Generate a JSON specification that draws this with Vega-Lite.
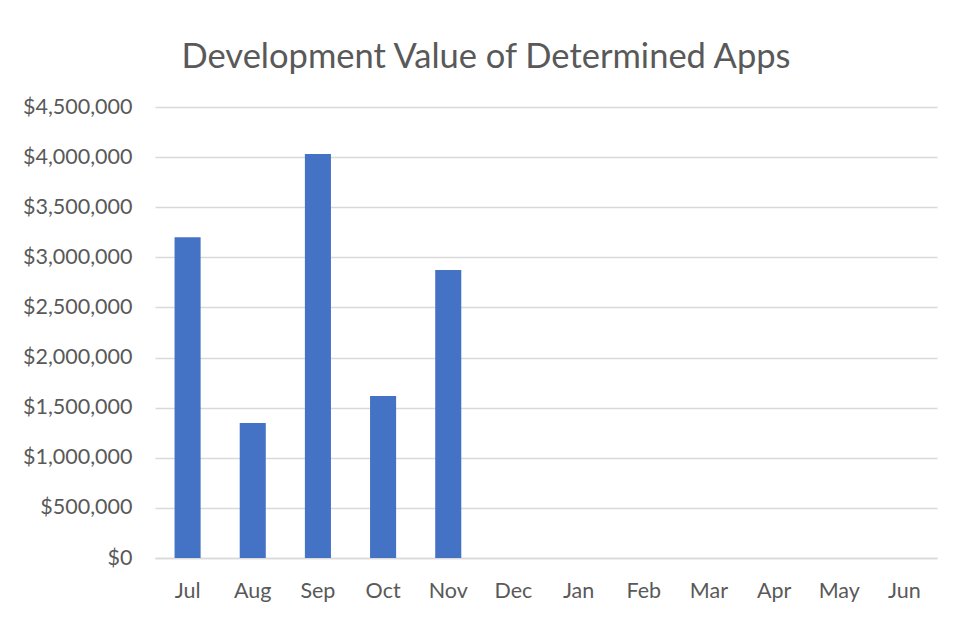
{
  "$schema": "https://vega.github.io/schema/vega-lite/v6.json",
  "autosize": "none",
  "width": 782,
  "height": 451,
  "padding": {"left": 155, "top": 107, "right": 19, "bottom": 59},
  "background": "white",
  "title": {
    "text": "Development Value of Determined Apps",
    "font": "Lato",
    "fontSize": 34.5,
    "fontWeight": "normal",
    "color": "#595959",
    "anchor": "middle",
    "dx": -60,
    "baseline": "alphabetic",
    "offset": -6
  },
  "data": {
    "values": [
      {"month": "Jul", "value": 3200000},
      {"month": "Aug", "value": 1348000},
      {"month": "Sep", "value": 4030000},
      {"month": "Oct", "value": 1617000},
      {"month": "Nov", "value": 2874000}
    ]
  },
  "mark": {"type": "bar", "color": "#4472C4"},
  "encoding": {
    "x": {
      "field": "month",
      "type": "nominal",
      "sort": null,
      "scale": {
        "domain": ["Jul", "Aug", "Sep", "Oct", "Nov", "Dec", "Jan", "Feb", "Mar", "Apr", "May", "Jun"],
        "paddingInner": 0.6,
        "paddingOuter": 0.3
      },
      "axis": {
        "title": null,
        "labelAngle": 0,
        "ticks": false,
        "domain": true,
        "domainColor": "#d9d9d9",
        "domainWidth": 1.5,
        "labelFont": "Lato",
        "labelFontSize": 21.5,
        "labelColor": "#595959",
        "labelPadding": 22
      }
    },
    "y": {
      "field": "value",
      "type": "quantitative",
      "scale": {"domain": [0, 4500000], "nice": false},
      "axis": {
        "title": null,
        "values": [0, 500000, 1000000, 1500000, 2000000, 2500000, 3000000, 3500000, 4000000, 4500000],
        "format": "$,.0f",
        "ticks": false,
        "domain": false,
        "gridColor": "#d9d9d9",
        "gridWidth": 1.5,
        "labelFont": "Lato",
        "labelFontSize": 21.5,
        "labelColor": "#595959",
        "labelPadding": 23
      }
    }
  },
  "config": {"view": {"stroke": null}}
}
